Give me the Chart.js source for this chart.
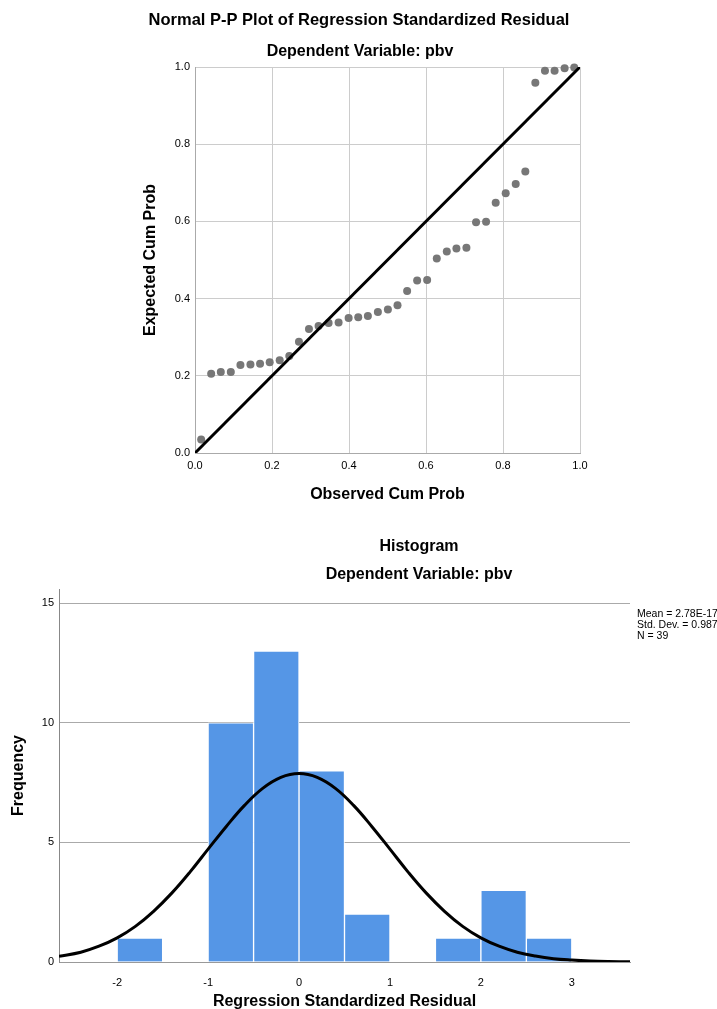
<!DOCTYPE html>
<html>
<head>
<meta charset="utf-8">
<script src="https://cdn.jsdelivr.net/npm/chart.js@4.4.1/dist/chart.umd.min.js"></script>
<style>
  html, body { margin: 0; padding: 0; background: #fff; width: 717px; height: 1009px; overflow: hidden; }
  .box { position: absolute; left: 0; width: 717px; }
  #ppBox { top: 0; height: 515px; }
  #histBox { top: 520px; height: 495px; }
</style>
</head>
<body>
<div class="box" id="ppBox"><canvas id="ppChart"></canvas></div>
<div class="box" id="histBox"><canvas id="histChart"></canvas></div>
<script>
// P-P plot data
const observedCumProb = [0.016, 0.042, 0.067, 0.093, 0.118, 0.144, 0.169, 0.194, 0.220, 0.245,
    0.270, 0.296, 0.321, 0.347, 0.373, 0.399, 0.424, 0.449, 0.475, 0.501,
    0.526, 0.551, 0.577, 0.603, 0.628, 0.654, 0.679, 0.705, 0.730, 0.756,
    0.781, 0.807, 0.833, 0.858, 0.884, 0.909, 0.934, 0.960, 0.985];
const expectedCumProb = [0.035, 0.205, 0.210, 0.210, 0.228, 0.229, 0.231, 0.235, 0.240, 0.251,
    0.288, 0.321, 0.329, 0.337, 0.338, 0.350, 0.352, 0.355, 0.365, 0.372,
    0.383, 0.420, 0.447, 0.448, 0.504, 0.522, 0.530, 0.532, 0.598, 0.599,
    0.648, 0.673, 0.697, 0.729, 0.959, 0.990, 0.990, 0.997, 0.999];
const refLine = [0, 1];

// Histogram data
const binCenters = [-1.75, -0.75, -0.25, 0.25, 0.75, 1.75, 2.25, 2.75];
const binCounts = [1, 10, 13, 8, 2, 1, 3, 1];
const histXTicks = [-2, -1, 0, 1, 2, 3];
const histYTicks = [0, 5, 10, 15];
const curveX = [-2.64, -2.4, -2.2, -2.0, -1.8, -1.6, -1.4, -1.2, -1.0, -0.8, -0.6, -0.4, -0.2, 0,
    0.2, 0.4, 0.6, 0.8, 1.0, 1.2, 1.4, 1.6, 1.8, 2.0, 2.2, 2.4, 2.6, 2.8, 3.0, 3.2, 3.4, 3.64];
const curveY = [0.24, 0.41, 0.66, 1.01, 1.49, 2.12, 2.88, 3.76, 4.72, 5.67, 6.55, 7.26, 7.72, 7.88,
    7.72, 7.26, 6.55, 5.67, 4.72, 3.76, 2.88, 2.12, 1.49, 1.01, 0.66, 0.41, 0.25, 0.14, 0.08, 0.04, 0.02, 0.01];
const histStats = ['Mean = 2.78E-17', 'Std. Dev. = 0.987', 'N = 39'];

Chart.defaults.font.family = '"Liberation Sans", Arial, sans-serif';
Chart.defaults.color = '#000';

// draws title lines at fixed spots (SPSS centres them differently than Chart.js)
function textPlugin(items) {
    return {
        id: 'fixedText',
        afterDraw(chart) {
            const ctx = chart.ctx;
            items.forEach(it => {
                ctx.save();
                ctx.font = it.font;
                ctx.fillStyle = '#000';
                ctx.textAlign = it.align || 'center';
                ctx.textBaseline = 'middle';
                ctx.fillText(it.text, it.x, it.y);
                ctx.restore();
            });
        }
    };
}

const titleFont = 'bold 16px "Liberation Sans", Arial, sans-serif';
const statFont = '10.5px "Liberation Sans", Arial, sans-serif';

new Chart(document.getElementById('ppChart'), {
    type: 'scatter',
    data: {
        datasets: [
            {
                type: 'line',
                data: refLine.map(v => ({ x: v, y: v })),
                borderColor: '#000',
                borderWidth: 3,
                pointRadius: 0,
                order: 0
            },
            {
                data: observedCumProb.map((x, i) => ({ x: x, y: expectedCumProb[i] })),
                backgroundColor: '#777777',
                borderWidth: 0,
                pointRadius: 4,
                clip: false,
                order: 1
            }
        ]
    },
    options: {
        responsive: true,
        maintainAspectRatio: false,
        animation: false,
        layout: { padding: { top: 67, left: 137, right: 137, bottom: 0 } },
        plugins: { legend: { display: false }, tooltip: { enabled: false } },
        scales: {
            x: {
                type: 'linear', min: 0, max: 1, bounds: 'data',
                ticks: { stepSize: 0.2, callback: v => v.toFixed(1), padding: 6, font: { size: 11 }, maxRotation: 0 },
                grid: { color: '#cccccc', drawTicks: false },
                border: { color: '#aaaaaa' },
                title: { display: true, text: 'Observed Cum Prob', font: { size: 16, weight: 'bold' }, padding: { top: 0, bottom: 11 } },
                afterFit: s => { s.height = 62; }
            },
            y: {
                type: 'linear', min: 0, max: 1, bounds: 'data',
                ticks: { stepSize: 0.2, callback: v => v.toFixed(1), padding: 5, font: { size: 11 } },
                grid: { color: '#cccccc', drawTicks: false },
                border: { color: '#aaaaaa' },
                title: { display: true, text: 'Expected Cum Prob', font: { size: 16, weight: 'bold' }, padding: { top: 4, bottom: 0 } },
                afterFit: s => { s.width = 58; }
            }
        }
    },
    plugins: [textPlugin([
        { text: 'Normal P-P Plot of Regression Standardized Residual', x: 359, y: 20, font: 'bold 16.5px "Liberation Sans", Arial, sans-serif' },
        { text: 'Dependent Variable: pbv', x: 360, y: 52, font: titleFont }
    ])]
});

new Chart(document.getElementById('histChart'), {
    type: 'bar',
    data: {
        datasets: [
            {
                type: 'line',
                data: curveX.map((x, i) => ({ x: x, y: curveY[i] })),
                borderColor: '#000',
                borderWidth: 3,
                pointRadius: 0,
                tension: 0.4,
                order: 0
            },
            {
                type: 'bar',
                data: binCenters.map((x, i) => ({ x: x, y: binCounts[i] })),
                backgroundColor: '#5596e6',
                borderColor: '#ffffff',
                borderWidth: 1,
                barPercentage: 1,
                categoryPercentage: 1,
                order: 1
            }
        ]
    },
    options: {
        responsive: true,
        maintainAspectRatio: false,
        animation: false,
        layout: { padding: { top: 69, left: 6, right: 87, bottom: 0 } },
        plugins: { legend: { display: false }, tooltip: { enabled: false } },
        scales: {
            x: {
                type: 'linear', min: -2.64, max: 3.64, bounds: 'data', offset: false,
                afterBuildTicks: s => { s.ticks = histXTicks.map(v => ({ value: v })); },
                ticks: { padding: 6, font: { size: 11 }, maxRotation: 0 },
                grid: { display: false },
                border: { color: '#999999' },
                title: { display: true, text: 'Regression Standardized Residual', font: { size: 16, weight: 'bold' }, padding: { top: 0, bottom: 4 } },
                afterFit: s => { s.height = 53; }
            },
            y: {
                min: 0, max: 15.6, bounds: 'data',
                afterBuildTicks: s => { s.ticks = histYTicks.map(v => ({ value: v })); },
                ticks: { padding: 5, font: { size: 11 } },
                grid: { color: '#aaaaaa', drawTicks: false },
                border: { color: '#888888' },
                title: { display: true, text: 'Frequency', font: { size: 16, weight: 'bold' }, padding: { top: 3, bottom: 0 } },
                afterFit: s => { s.width = 53; }
            }
        }
    },
    plugins: [textPlugin([
        { text: 'Histogram', x: 419, y: 27, font: titleFont },
        { text: 'Dependent Variable: pbv', x: 419, y: 55, font: titleFont },
        { text: histStats[0], x: 637, y: 94, align: 'left', font: statFont },
        { text: histStats[1], x: 637, y: 105, align: 'left', font: statFont },
        { text: histStats[2], x: 637, y: 116, align: 'left', font: statFont }
    ])]
});
</script>
</body>
</html>
